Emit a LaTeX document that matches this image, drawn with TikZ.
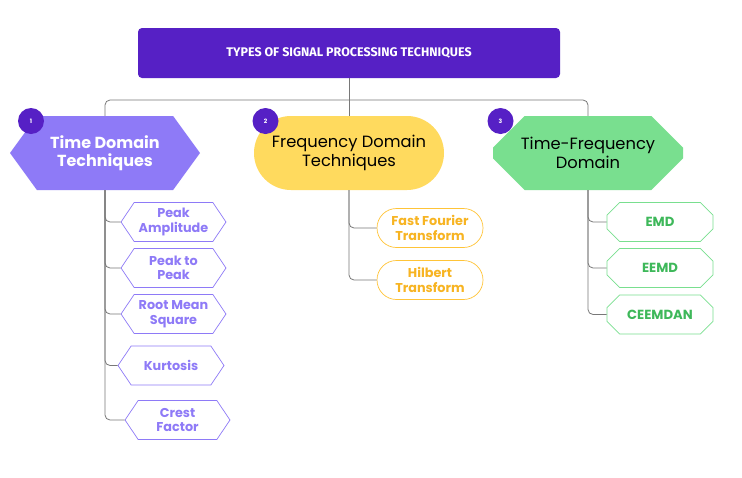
\documentclass[tikz,border=0pt]{standalone}
\usepackage{fontspec}
\setmainfont{Poppins}
\newfontfamily\titlefont{Fira Sans}
\newfontfamily\leaffont{Poppins}
\usetikzlibrary{shapes.symbols,shapes.misc}
\definecolor{deep}{RGB}{86,32,197}
\definecolor{lav}{RGB}{142,122,247}
\definecolor{sun}{RGB}{255,218,94}
\definecolor{mint}{RGB}{121,223,143}
\definecolor{orline}{RGB}{255,196,56}
\definecolor{ortext}{RGB}{247,180,34}
\definecolor{grtext}{RGB}{62,184,90}
\definecolor{wire}{RGB}{120,120,120}
\tikzset{
  conn/.style={draw=wire, line width=0.8pt, rounded corners=5pt},
  badge/.style={circle, fill=deep, minimum size=26pt, inner sep=0pt, text=white, font=\bfseries\fontsize{6}{6}\selectfont},
  mainlbl/.style={align=center, font=\fontsize{16.3}{18.5}\selectfont},
  hexleaf/.style={signal, signal to=west and east, signal pointer angle=112, draw=lav, line width=0.7pt, fill=white,
     minimum width=105pt, minimum height=39pt, inner sep=0pt, align=center, text=lav,
     font=\leaffont\bfseries\fontsize{12.8}{14.5}\selectfont},
  pillleaf/.style={rounded rectangle, draw=orline, line width=0.7pt, fill=white,
     minimum width=106pt, minimum height=39pt, inner sep=0pt, align=center, text=ortext,
     font=\leaffont\bfseries\fontsize{12.8}{14.5}\selectfont},
  chamleaf/.style={chamfered rectangle, chamfered rectangle xsep=8pt, chamfered rectangle ysep=8pt,
     draw=mint, line width=0.7pt, fill=white,
     minimum width=106pt, minimum height=39pt, inner sep=0pt, align=center, text=grtext,
     font=\leaffont\bfseries\fontsize{13.2}{14.5}\selectfont},
}
\begin{document}
\begin{tikzpicture}[x=1pt,y=-1pt]
\path[use as bounding box] (0,0) rectangle (742,477);
\fill[white] (0,0) rectangle (742,477);

% title
\node[fill=deep, rounded corners=4pt, minimum width=422pt, minimum height=50pt, inner sep=0pt,
      text=white, font=\titlefont\bfseries\fontsize{12.5}{14}\selectfont] (title) at (349,53)
      {TYPES OF SIGNAL PROCESSING TECHNIQUES};

% main categories
\node[signal, signal to=west and east, signal pointer angle=108, fill=lav, minimum width=190pt,
      minimum height=74pt, inner sep=0pt, mainlbl, text=white, font=\bfseries\fontsize{16}{18.5}\selectfont] (t1) at (105,153)
      {Time Domain\\Techniques};
\node[rounded rectangle, fill=sun, minimum width=190pt, minimum height=74pt, inner sep=0pt, mainlbl] (t2) at (349,153)
      {Frequency Domain\\Techniques};
\node[chamfered rectangle, chamfered rectangle xsep=16pt, chamfered rectangle ysep=16pt, fill=mint,
      minimum width=190pt, minimum height=74pt, inner sep=0pt, mainlbl] (t3) at (588,153)
      {Time-Frequency\\Domain};

\node[badge] (b1) at (31,121) {1};
\node[badge] (b2) at (265.5,121) {2};
\node[badge] (b3) at (500.5,121) {3};

% root connectors
\coordinate (j) at (349,100);
\draw[conn] (title.south) -- (j);
\draw[conn] (j) -| (t1.north);
\draw[conn] (j) -- (t2.north);
\draw[conn] (j) -| (t3.north);

% time domain leaves
\node[hexleaf] (p1) at (173.5,222) {Peak\\Amplitude};
\node[hexleaf] (p2) at (173.5,268) {Peak to\\Peak};
\node[hexleaf] (p3) at (173.5,314) {Root Mean\\Square};
\node[hexleaf, minimum width=106pt] (p4) at (171,365.5) {Kurtosis};
\node[hexleaf] (p5) at (177.5,420) {Crest\\Factor};
\foreach \n in {p1,p2,p3,p4,p5} \draw[conn] (t1.south) |- (\n.west);

% frequency domain leaves
\node[pillleaf] (f1) at (430,228) {Fast Fourier\\Transform};
\node[pillleaf] (f2) at (430,280) {Hilbert\\Transform};
\foreach \n in {f1,f2} \draw[conn] (t2.south) |- (\n.west);

% time-frequency leaves
\node[chamleaf] (e1) at (660,222) {EMD};
\node[chamleaf] (e2) at (660,268) {EEMD};
\node[chamleaf] (e3) at (660,314.5) {CEEMDAN};
\foreach \n in {e1,e2,e3} \draw[conn] (t3.south) |- (\n.west);
\end{tikzpicture}
\end{document}
